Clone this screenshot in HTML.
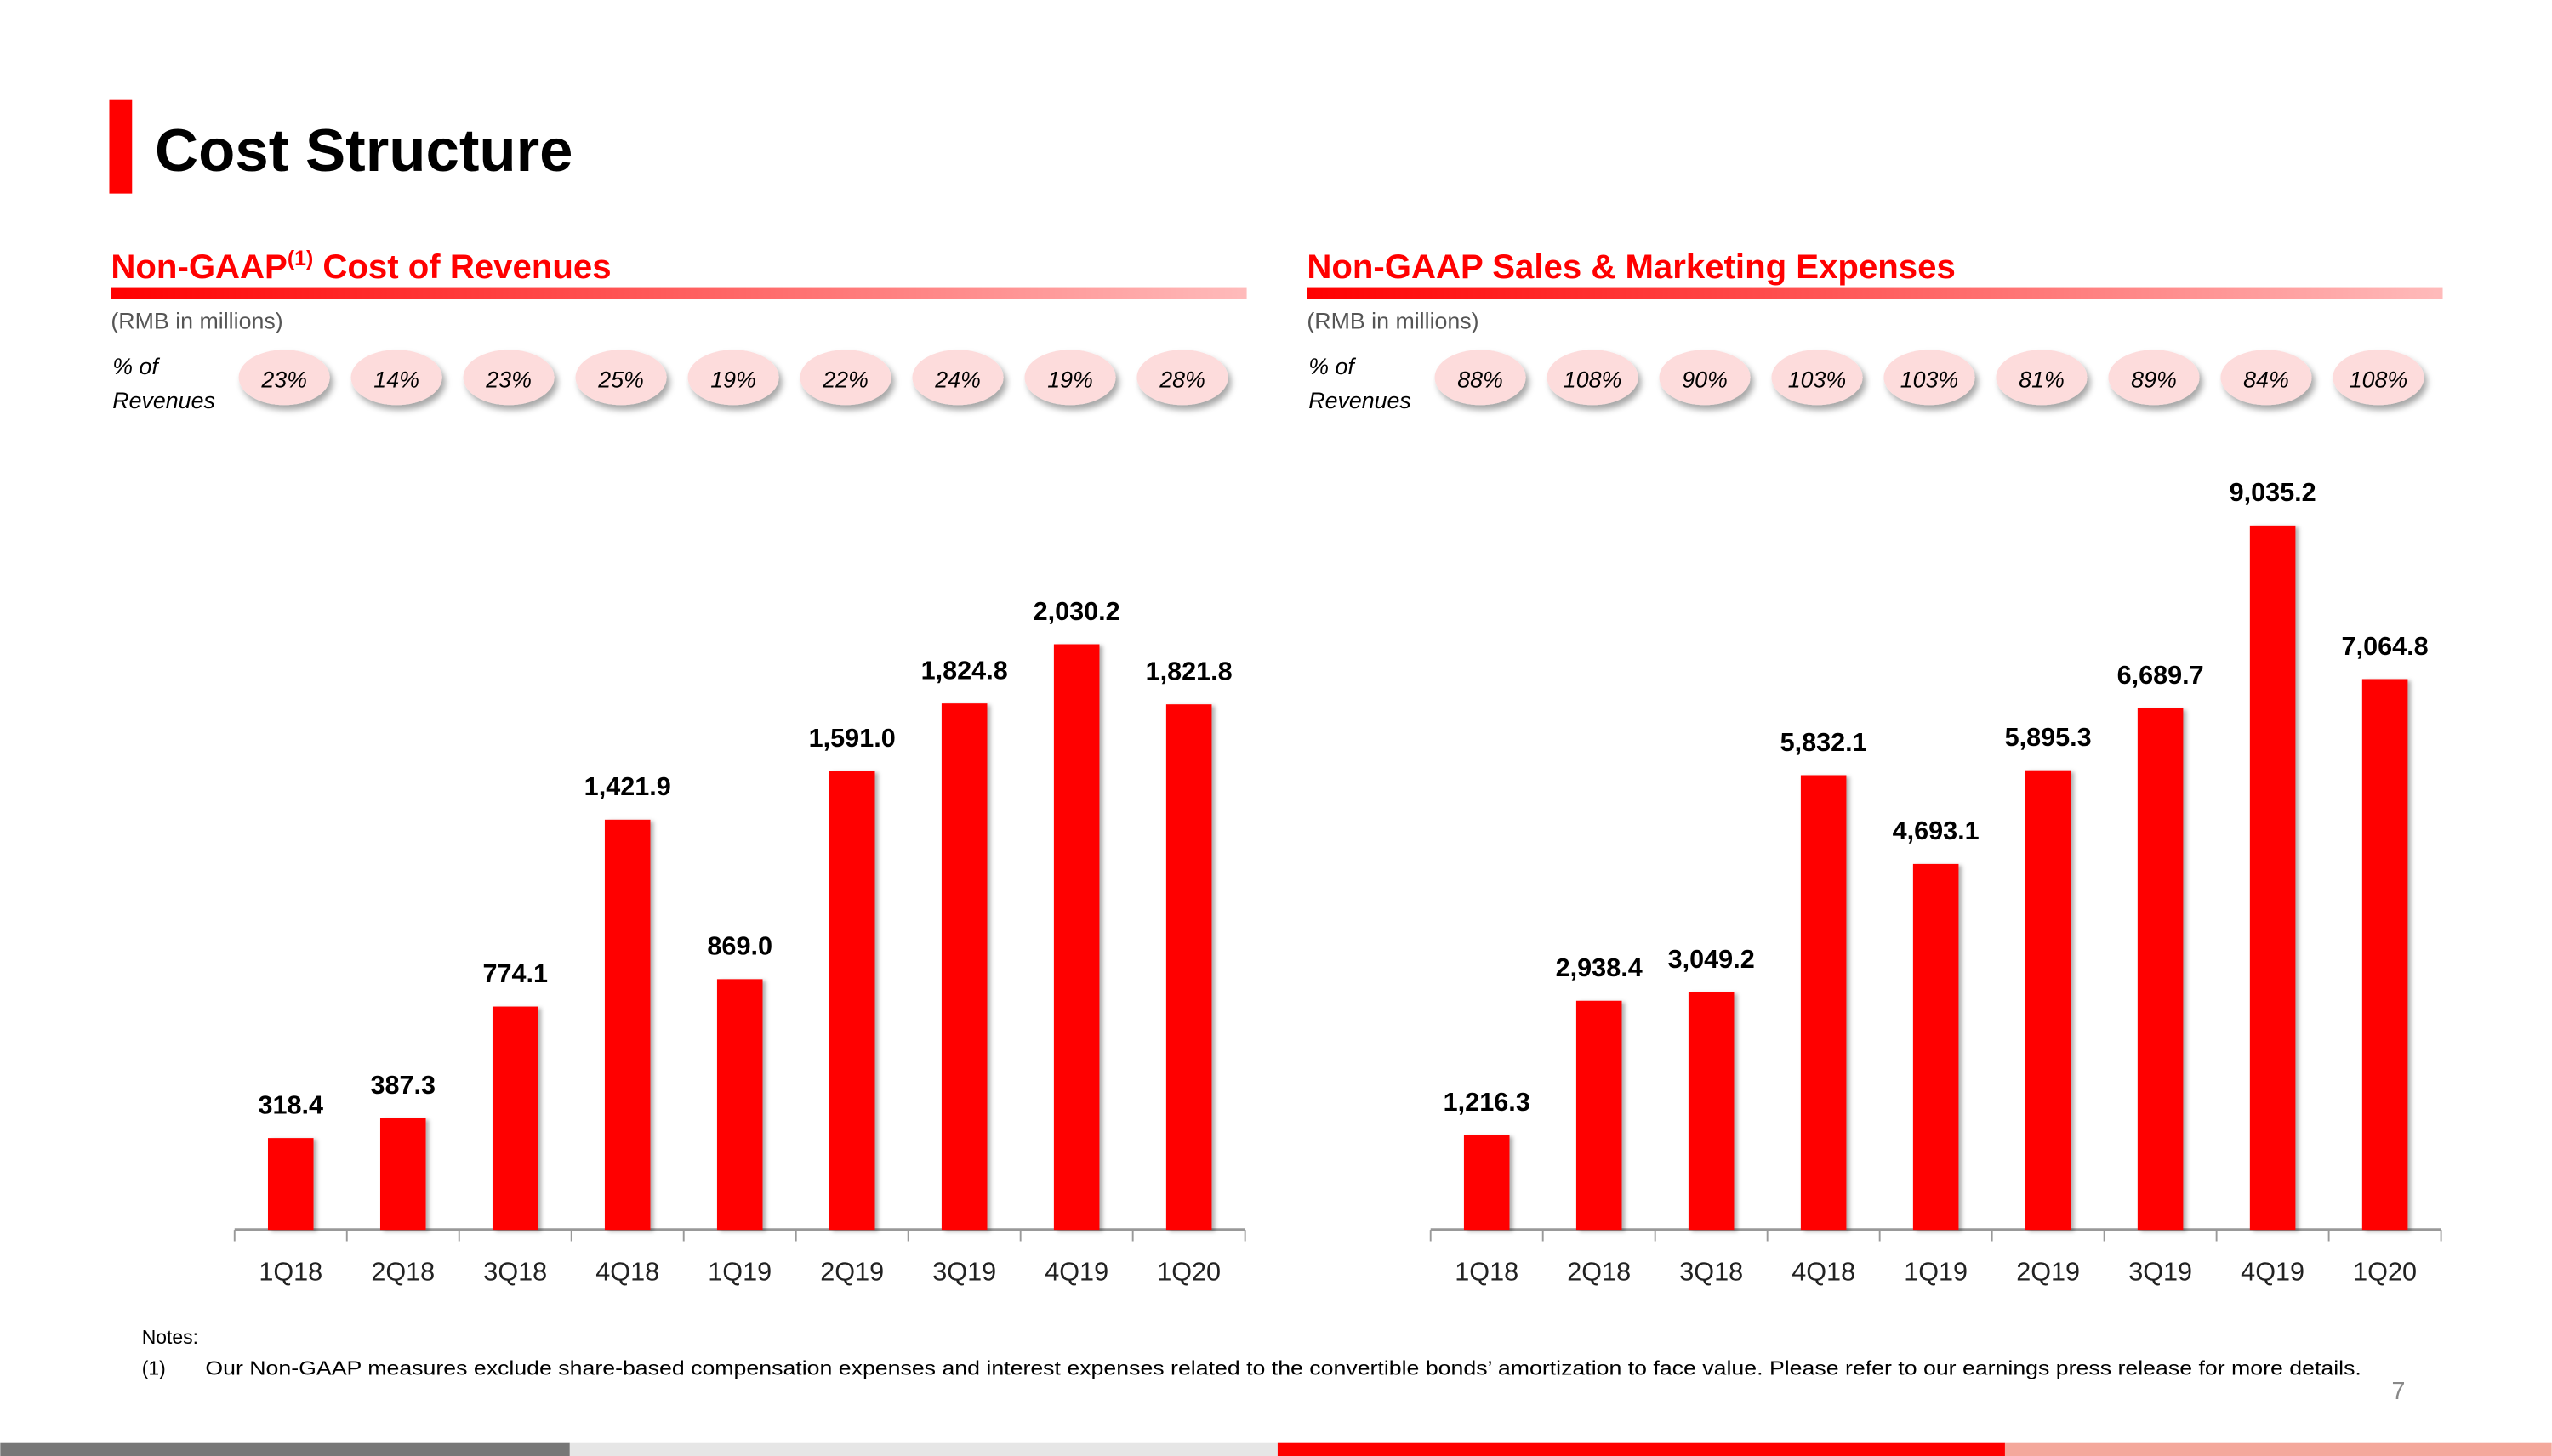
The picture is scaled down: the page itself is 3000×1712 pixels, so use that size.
<!DOCTYPE html>
<html><head><meta charset="utf-8"><style>
html,body{margin:0;padding:0;background:#fff;}
svg{display:block;}
text{font-family:"Liberation Sans",sans-serif;}
</style></head><body>
<svg id="s" width="3000" height="1712" viewBox="0 0 1568 895" xmlns="http://www.w3.org/2000/svg">
<defs>
<linearGradient id="g1" x1="0" x2="1" y1="0" y2="0"><stop offset="0" stop-color="#f00"/><stop offset="1" stop-color="#fbb"/></linearGradient>
<filter id="sh" x="-30%" y="-30%" width="170%" height="180%"><feDropShadow dx="2" dy="3" stdDeviation="2" flood-color="#000" flood-opacity="0.35"/></filter>
<filter id="bs" x="-30%" y="-10%" width="170%" height="120%"><feDropShadow dx="2" dy="1" stdDeviation="1.2" flood-color="#000" flood-opacity="0.3"/></filter>
</defs>
<rect x="67" y="61" width="14" height="58" fill="#f00"/>
<text x="95" y="105" font-size="37" font-weight="bold" fill="#000">Cost Structure</text>

<text x="68" y="171" font-size="21" font-weight="bold" fill="#f00">Non-GAAP<tspan font-size="13" dy="-8">(1)</tspan><tspan dy="8"> Cost of Revenues</tspan></text>
<rect x="68" y="177" width="698" height="7" fill="url(#g1)"/>
<text x="68" y="202" font-size="14" fill="#555">(RMB in millions)</text>
<text x="69" y="230" font-size="14" font-style="italic" fill="#000">% of</text>
<text x="69" y="251" font-size="14" font-style="italic" fill="#000">Revenues</text>

<text x="803" y="171" font-size="21" font-weight="bold" fill="#f00">Non-GAAP Sales &amp; Marketing Expenses</text>
<rect x="803" y="177" width="698" height="7" fill="url(#g1)"/>
<text x="803" y="202" font-size="14" fill="#555">(RMB in millions)</text>
<text x="804" y="230" font-size="14" font-style="italic" fill="#000">% of</text>
<text x="804" y="251" font-size="14" font-style="italic" fill="#000">Revenues</text>

<g id="charts"></g>

<text x="87" y="826" font-size="12" fill="#000">Notes:</text>
<text x="87" y="845" font-size="12" fill="#000">(1)</text>
<text x="126" y="845" font-size="12" fill="#000" textLength="1325" lengthAdjust="spacingAndGlyphs">Our Non-GAAP measures exclude share-based compensation expenses and interest expenses related to the convertible bonds’ amortization to face value. Please refer to our earnings press release for more details.</text>
<text x="1478" y="860" font-size="15" fill="#888" text-anchor="end">7</text>

<rect x="0" y="887" width="350" height="8" fill="#777"/>
<rect x="350" y="887" width="435" height="8" fill="#e6e6e6"/>
<rect x="785" y="887" width="447" height="8" fill="#f00"/>
<rect x="1232" y="887" width="336" height="8" fill="#f4a89c"/>
</svg>
<script>
const categories = ["1Q18","2Q18","3Q18","4Q18","1Q19","2Q19","3Q19","4Q19","1Q20"];
const costValues = [318.4,387.3,774.1,1421.9,869.0,1591.0,1824.8,2030.2,1821.8];
const costPct = ["23%","14%","23%","25%","19%","22%","24%","19%","28%"];
const smValues = [1216.3,2938.4,3049.2,5832.1,4693.1,5895.3,6689.7,9035.2,7064.8];
const smPct = ["88%","108%","90%","103%","103%","81%","89%","84%","108%"];
const NS = "http://www.w3.org/2000/svg";
const g = document.getElementById("charts");
function mk(tag, attrs, parent){const e=document.createElementNS(NS,tag);for(const k in attrs)e.setAttribute(k,attrs[k]);(parent||g).appendChild(e);return e;}
function fmt(v){return v.toLocaleString("en-US",{minimumFractionDigits:1,maximumFractionDigits:1});}
function drawChart(prefix, x0, x1, yBase, pxPerUnit, values, pcts){
  const step=(x1-x0)/categories.length;
  const xs=i=>x0+step*(i+0.5);
  const ys=v=>yBase-v*pxPerUnit;
  const ax=mk("line",{x1:x0,x2:x1,y1:yBase,y2:yBase,stroke:"#999","stroke-width":2});
  
  
  for(let i=0;i<=categories.length;i++){
    const t=mk("line",{x1:x0+step*i,x2:x0+step*i,y1:yBase,y2:yBase+7,stroke:"#999","stroke-width":1});
    
    
  }
  values.forEach((v,i)=>{
    const b=mk("rect",{x:xs(i)-14,y:ys(v),width:28,height:yBase-ys(v),fill:"#f00",filter:"url(#bs)"});
    
    
    const l=mk("text",{x:xs(i),y:ys(v)-15,"font-size":16,"font-weight":"bold","text-anchor":"middle",fill:"#000"});
    l.textContent=fmt(v);
    
    
    const c=mk("text",{x:xs(i),y:yBase+31,"font-size":16,"text-anchor":"middle",fill:"#222"});
    c.textContent=categories[i];
    
    
    const e=mk("ellipse",{cx:xs(i)-4,cy:232,rx:28,ry:17,fill:"#fddcdc",filter:"url(#sh)"});
    
    
    const p=mk("text",{x:xs(i)-4,y:238,"font-size":14,"font-style":"italic","text-anchor":"middle",fill:"#000"});
    p.textContent=pcts[i];
    
    
  });
}
drawChart("cost",144,765,756,360/2030.2,costValues,costPct);
drawChart("sm",879,1500,756,433/9035.2,smValues,smPct);
</script>
</body></html>
